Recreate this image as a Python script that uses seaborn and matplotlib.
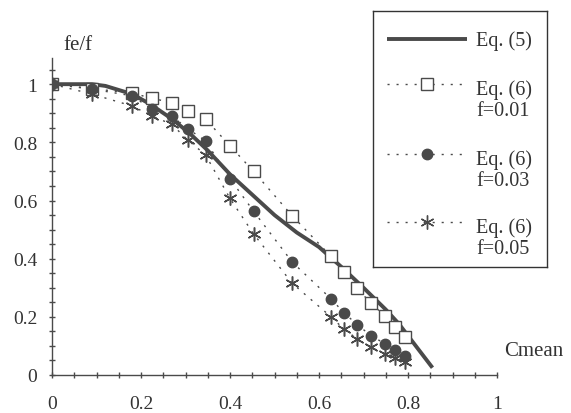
import numpy as np
import pandas as pd
import matplotlib.pyplot as plt
import seaborn as sns
from matplotlib.lines import Line2D
from matplotlib.ticker import MultipleLocator

# Eq. (6) points, shared Cmean positions
cmean = [0, 0.09, 0.18, 0.224, 0.269, 0.305, 0.345, 0.40, 0.453, 0.54,
         0.627, 0.656, 0.686, 0.717, 0.749, 0.771, 0.794]
f001 = [1.0, 0.985, 0.969, 0.952, 0.936, 0.908, 0.880, 0.788, 0.700, 0.547,
        0.408, 0.353, 0.298, 0.246, 0.202, 0.164, 0.130]
f003 = [1.0, 0.983, 0.960, 0.914, 0.891, 0.847, 0.805, 0.675, 0.563, 0.388,
        0.262, 0.214, 0.173, 0.135, 0.107, 0.086, 0.066]
f005 = [1.0, 0.966, 0.925, 0.891, 0.862, 0.808, 0.757, 0.607, 0.485, 0.315,
        0.200, 0.158, 0.124, 0.095, 0.072, 0.057, 0.044]

# Eq. (5) curve
eq5_x = [0, 0.09, 0.12, 0.18, 0.22, 0.27, 0.31, 0.35, 0.40, 0.45, 0.50,
         0.55, 0.60, 0.65, 0.70, 0.75, 0.78, 0.81, 0.835, 0.855]
eq5_y = [1.0, 1.0, 0.994, 0.966, 0.932, 0.88, 0.83, 0.772, 0.69, 0.62, 0.55,
         0.49, 0.44, 0.372, 0.30, 0.225, 0.175, 0.115, 0.065, 0.025]

sns.set_style('white')
plt.rcParams['font.family'] = ['Liberation Serif', 'DejaVu Serif']

dark = '#4a4a4a'
dots = (0, (1.5, 5))

fig = plt.figure(figsize=(5.71, 4.14), dpi=100)
ax = fig.add_axes([52 / 571, 38 / 414, 445 / 571, 317 / 414])

sns.lineplot(x=eq5_x, y=eq5_y, color=dark, lw=2.8, sort=False, ax=ax,
             solid_capstyle='butt')
sns.lineplot(x=cmean, y=f001, color=dark, lw=1, ls=dots, marker='s', ms=8,
             mfc='white', mec=dark, mew=1, sort=False, ax=ax)
sns.lineplot(x=cmean, y=f003, color=dark, lw=1, ls=dots, marker='o', ms=7.5,
             mfc=dark, mec=dark, mew=1, sort=False, ax=ax)
sns.lineplot(x=cmean, y=f005, color=dark, lw=1, ls=dots, marker=(6, 2, 0),
             ms=10, mec=dark, mew=1.1, sort=False, ax=ax)

ax.set_xlim(0, 1)
ax.set_ylim(0, 1.09)
ax.xaxis.set_minor_locator(MultipleLocator(0.05))
ax.yaxis.set_minor_locator(MultipleLocator(0.05))
ax.set_xticks([0, 0.2, 0.4, 0.6, 0.8, 1])
ax.set_xticklabels(['0', '0.2', '0.4', '0.6', '0.8', '1'])
ax.set_yticks([0, 0.2, 0.4, 0.6, 0.8, 1])
ax.set_yticklabels(['0', '0.2', '0.4', '0.6', '0.8', '1'])
ax.tick_params(which='both', direction='inout', length=5, width=1,
               color=dark, labelsize=14, labelcolor='#333333',
               left=True, bottom=True)
ax.tick_params(axis='x', pad=12)
ax.tick_params(axis='y', pad=8)
sns.despine(ax=ax)
for s in ['left', 'bottom']:
    ax.spines[s].set_color(dark)
    ax.spines[s].set_linewidth(1)
ax.set_xlabel('')
ax.set_ylabel('')

fig.text(63 / 571, 1 - 45 / 414, 'fe/f', fontsize=15, color='#333333',
         ha='left', va='center')
fig.text(534 / 571, 1 - 352 / 414, 'Cmean', fontsize=15, color='#333333',
         ha='center', va='center')

# legend box
lax = fig.add_axes([373 / 571, 1 - 268 / 414, 174 / 571, 256 / 414])
lax.set_xlim(0, 174)
lax.set_ylim(256, 0)
lax.set_xticks([])
lax.set_yticks([])
for s in lax.spines.values():
    s.set_visible(True)
    s.set_color('#333333')
    s.set_linewidth(1)

lax.add_line(Line2D([14, 94], [28, 28], color=dark, lw=2.8,
                    solid_capstyle='butt'))
entries = [('s', 'white', 8, 73, 'f=0.01'),
           ('o', dark, 7.5, 143, 'f=0.03'),
           ((6, 2, 0), dark, 10, 211, 'f=0.05')]
for mk, fc, ms, yy, lab in entries:
    lax.add_line(Line2D([14, 94], [yy, yy], color=dark, lw=1, ls=dots))
    lax.add_line(Line2D([54], [yy], marker=mk, ms=ms, mfc=fc, mec=dark,
                        mew=1, ls='none'))
    lax.text(103, yy + 5, 'Eq. (6)', fontsize=14.5, color='#333333',
             va='center', ha='left')
    lax.text(103, yy + 27, lab, fontsize=14.5, color='#333333',
             va='center', ha='left')
lax.text(103, 29, 'Eq. (5)', fontsize=14.5, color='#333333',
         va='center', ha='left')

fig.savefig('out.png', dpi=100)
